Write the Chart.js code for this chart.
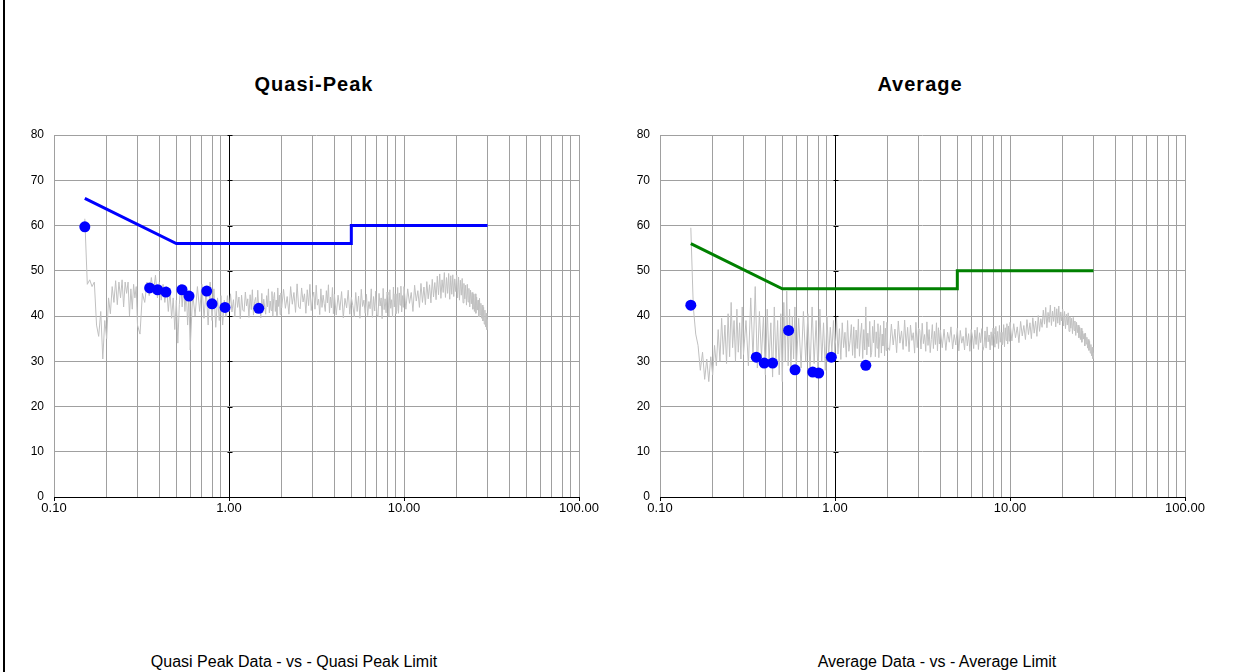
<!DOCTYPE html>
<html>
<head>
<meta charset="utf-8">
<script src="https://cdn.jsdelivr.net/npm/chart.js@4.4.1/dist/chart.umd.min.js"></script>
<style>
  body { margin: 0; width: 1252px; height: 672px; background: #fff; position: relative; overflow: hidden;
         font-family: "Liberation Sans", Arial, sans-serif; color: #000; }
  .frame { position: absolute; left: 3px; top: 0; width: 2px; height: 672px; background: #000; }
  .box { position: absolute; top: 120px; width: 620px; height: 410px; }
  .title { position: absolute; top: 73px; font-weight: bold; font-size: 20px; line-height: 22px;
           letter-spacing: 1px; transform: translateX(-50%); white-space: nowrap; }
  .caption { position: absolute; top: 654px; font-size: 16px; line-height: 16px;
             transform: translateX(-50%); white-space: nowrap; }
</style>
</head>
<body>
<div class="frame"></div>
<div class="title" style="left:314px">Quasi-Peak</div>
<div class="title" style="left:920px">Average</div>
<div class="box" style="left:0px"><canvas id="qpChart" width="620" height="410"></canvas></div>
<div class="box" style="left:606px"><canvas id="avChart" width="620" height="410"></canvas></div>
<div class="caption" style="left:294px">Quasi Peak Data - vs - Quasi Peak Limit</div>
<div class="caption" style="left:937px">Average Data - vs - Average Limit</div>

<script>
// sweep frequencies (MHz)
const freqMHz = [
  0.150,0.155,0.160,0.165,0.170,0.175,0.180,0.185,0.190,0.195,0.200,0.205,0.210,0.215,0.220,0.225,
  0.230,0.235,0.240,0.245,0.250,0.255,0.260,0.265,0.270,0.275,0.280,0.285,0.290,0.295,0.300,
  0.31,0.32,0.33,0.34,0.35,0.36,0.37,0.38,0.39,0.40,0.41,0.42,0.43,0.44,0.45,
  0.46,0.47,0.48,0.49,0.50,0.51,0.52,0.53,0.54,0.55,0.56,0.57,0.58,0.59,0.60,
  0.62,0.64,0.66,0.68,0.70,0.72,0.74,0.76,0.78,0.80,0.82,0.84,0.86,0.88,0.90,0.92,0.94,0.96,0.98,1.00,
  1.02,1.04,1.06,1.08,1.10,1.12,1.14,1.16,1.18,1.20,1.22,1.24,1.26,1.28,1.30,1.32,1.34,1.36,1.38,1.40,
  1.42,1.44,1.46,1.48,1.50,1.52,1.54,1.56,1.58,1.60,1.62,1.64,1.66,1.68,1.70,1.72,1.74,1.76,1.78,1.80,
  1.82,1.84,1.86,1.88,1.90,1.92,1.94,1.96,1.98,2.00,
  2.05,2.10,2.15,2.20,2.25,2.30,2.35,2.40,2.45,2.50,2.55,2.60,2.65,2.70,2.75,2.80,2.85,2.90,2.95,3.00,
  3.05,3.10,3.15,3.20,3.25,3.30,3.35,3.40,3.45,3.50,3.55,3.60,3.65,3.70,3.75,3.80,3.85,3.90,3.95,4.00,
  4.1,4.2,4.3,4.4,4.5,4.6,4.7,4.8,4.9,5.0,
  5.1,5.2,5.3,5.4,5.5,5.6,5.7,5.8,5.9,6.0,
  6.1,6.2,6.3,6.4,6.5,6.6,6.7,6.8,6.9,7.0,
  7.1,7.2,7.3,7.4,7.5,7.6,7.7,7.8,7.9,8.0,
  8.1,8.2,8.3,8.4,8.5,8.6,8.7,8.8,8.9,9.0,
  9.1,9.2,9.3,9.4,9.5,9.6,9.7,9.8,9.9,10.0,
  10.25,10.50,10.75,11.00,11.25,11.50,11.75,12.00,12.25,12.50,12.75,13.00,13.25,13.50,13.75,14.00,14.25,14.50,14.75,15.00,
  15.25,15.50,15.75,16.00,16.25,16.50,16.75,17.00,17.25,17.50,17.75,18.00,18.25,18.50,18.75,19.00,19.25,19.50,19.75,20.00,
  20.25,20.50,20.75,21.00,21.25,21.50,21.75,22.00,22.25,22.50,22.75,23.00,23.25,23.50,23.75,24.00,24.25,24.50,24.75,25.00,
  25.25,25.50,25.75,26.00,26.25,26.50,26.75,27.00,27.25,27.50,27.75,28.00,28.25,28.50,28.75,29.00,29.25,29.50,29.75,30.00
];

// quasi-peak scan (dBuV)
const qpTrace = [
  61.5,47.0,48.0,46.5,47.5,38.0,35.5,41.0,30.5,39.0,35.0,44.0,40.5,46.5,43.0,47.8,
  42.5,47.5,44.0,48.0,42.0,47.5,45.0,47.5,40.0,46.0,41.5,47.0,44.0,46.5,38.0,
  36.0,45.0,43.0,47.5,44.5,48.5,45.0,49.0,44.0,47.5,43.5,47.0,43.0,46.5,41.0,
  45.5,39.5,44.0,37.0,43.5,34.0,42.5,47.0,42.0,46.5,41.0,46.0,38.0,44.5,32.5,
  45.0,40.0,46.5,41.0,47.0,39.5,46.0,38.0,47.5,39.0,46.0,37.5,44.0,39.0,44.5,38.0,43.5,40.0,44.5,41.0,
  44.9,40.9,43.6,39.8,45.5,41.9,44.2,39.4,44.6,41.3,41.0,45.3,42.2,43.8,39.7,44.7,41.4,45.8,40.2,43.2,
  44.1,40.6,45.7,41.5,42.8,39.6,45.0,40.8,43.7,41.9,40.4,44.5,42.0,46.0,40.7,43.3,41.2,45.4,39.9,43.9,
  45.2,41.0,43.5,40.1,46.2,42.1,44.6,40.3,45.1,41.8,
  45.9,41.7,44.3,40.4,46.5,42.6,45.2,40.8,47.1,42.0,41.6,46.2,43.1,44.9,40.6,45.8,42.3,47.0,41.2,44.0,
  45.3,41.5,46.8,42.4,43.7,40.3,46.0,41.9,44.6,42.7,41.0,45.6,42.9,46.9,40.7,44.2,41.8,46.3,40.5,44.8,
  40.2,44.6,41.3,45.4,39.6,43.9,41.8,45.7,40.4,44.1,
  42.3,39.8,45.2,41.0,44.4,39.5,45.9,42.1,43.5,40.6,
  44.8,40.1,43.2,41.6,46.0,39.7,44.3,41.1,45.5,40.3,
  39.9,45.0,42.2,44.0,39.4,46.1,41.4,43.8,40.7,45.3,
  44.7,40.0,45.8,41.7,43.6,39.8,46.4,42.0,44.9,40.5,
  41.2,46.3,40.6,45.1,42.4,46.6,40.9,44.5,41.9,46.5,
  41.5,46.0,42.8,45.2,41.0,46.8,43.3,45.6,41.9,47.2,43.0,46.4,42.5,47.6,43.8,46.9,42.9,48.1,44.2,47.4,
  43.6,48.8,44.7,49.3,43.9,48.0,45.2,49.6,44.1,48.5,45.0,49.4,43.7,48.9,44.8,49.1,44.3,48.2,45.4,49.0,
  44.0,48.6,43.5,47.9,44.6,48.3,42.9,47.2,43.8,46.8,42.4,47.0,43.1,46.1,42.0,45.7,42.7,45.2,41.5,44.8,
  41.0,44.9,40.6,44.2,41.3,43.5,39.8,43.9,40.2,42.8,39.5,42.4,38.9,41.9,38.2,41.3,37.6,40.6,37.0,39.2
];

// average scan (dBuV)
const avTrace = [
  59.5,42.0,36.0,33.5,28.0,32.0,26.0,30.5,25.5,31.0,27.0,33.5,29.0,37.0,30.0,39.5,
  31.5,38.0,29.5,40.5,31.0,43.0,33.0,39.0,30.0,41.5,32.0,38.5,30.5,42.0,31.5,
  39.0,29.0,44.0,30.5,46.5,28.5,41.0,31.0,40.0,27.0,41.5,30.0,38.5,26.5,42.0,
  29.5,39.0,27.0,40.5,25.5,43.0,30.0,45.5,29.0,41.5,27.5,40.0,30.5,42.0,28.0,
  39.5,28.5,41.0,30.0,40.5,27.5,42.0,29.5,39.0,27.0,41.5,30.0,38.5,28.0,40.0,31.0,37.5,32.0,39.0,31.5,
  39.8,31.6,37.2,30.4,38.5,33.0,36.4,30.9,39.0,32.2,34.5,38.1,31.3,37.6,30.7,36.9,32.8,39.3,31.1,35.8,
  38.4,30.6,37.0,32.5,42.0,31.4,36.2,33.2,38.8,30.9,32.0,37.7,34.1,39.1,31.0,36.5,32.9,38.3,30.8,35.4,
  37.9,31.8,36.0,33.4,38.9,31.2,37.3,32.4,38.6,33.1,
  32.4,38.2,33.6,37.1,31.9,38.9,34.0,36.7,32.6,39.1,33.3,37.5,32.1,38.0,34.6,36.3,31.8,38.6,33.0,37.3,
  36.8,32.7,38.4,33.9,35.9,32.2,38.7,33.5,37.0,31.9,34.8,38.1,32.8,36.6,33.7,38.5,32.3,37.4,33.8,36.9,
  33.0,37.1,32.4,36.4,34.2,37.6,32.7,35.9,33.6,37.3,
  32.3,36.8,34.0,35.5,32.5,37.4,33.4,36.1,32.2,37.0,
  35.6,32.8,36.9,33.7,37.5,32.6,36.3,34.1,37.2,32.4,
  33.3,36.7,32.9,37.6,34.3,35.8,32.5,36.5,33.5,37.3,
  36.0,33.1,37.7,33.9,36.6,32.8,37.9,34.2,36.4,33.6,
  34.0,38.1,33.2,37.4,34.6,38.3,33.8,37.8,34.4,38.6,
  34.5,38.3,35.2,37.6,34.1,38.8,35.6,37.9,34.8,39.2,35.9,38.5,35.0,39.6,36.2,38.9,35.5,40.1,36.6,39.4,
  37.5,41.3,38.2,41.9,37.4,40.8,38.6,42.4,37.9,41.1,38.8,42.0,37.6,41.6,38.4,42.2,38.0,40.9,38.9,41.5,
  37.8,41.0,37.2,40.4,38.0,40.7,36.6,39.8,37.3,39.5,36.1,39.7,36.8,38.9,35.7,38.6,36.3,38.0,35.2,37.6,
  34.8,37.3,34.2,36.7,34.9,36.1,33.4,36.2,33.8,35.3,32.9,34.8,32.4,34.4,31.8,33.7,31.2,33.1,30.6,31.9
];

// final measurement points
const qpPeakF = [0.150, 0.352, 0.391, 0.436, 0.539, 0.591, 0.746, 0.800, 0.949, 1.48];
const qpPeakV = [59.7, 46.2, 45.8, 45.3, 45.8, 44.4, 45.5, 42.7, 41.9, 41.7];
const avPeakF = [0.150, 0.355, 0.394, 0.440, 0.543, 0.591, 0.746, 0.807, 0.953, 1.50];
const avPeakV = [42.4, 30.9, 29.6, 29.6, 36.8, 28.1, 27.6, 27.4, 30.9, 29.1];

// limits
const limitF = [0.15, 0.5, 5, 5, 30];
const qpLimit = [66, 56, 56, 60, 60];
const avLimit = [56, 46, 46, 50, 50];

// axes
const xMajor = [0.1, 1, 10, 100];
const xLabels = ["0.10", "1.00", "10.00", "100.00"];
const yTicks = [0, 10, 20, 30, 40, 50, 60, 70, 80];

const gridValues = [];
for (let e = -1; e < 2; e++) {
  for (let m = 1; m < 10; m++) gridValues.push(Number((m * Math.pow(10, e)).toPrecision(3)));
}
gridValues.push(100);

Chart.defaults.font.family = '"Liberation Sans", Arial, sans-serif';
Chart.defaults.color = '#000';

// the value axis crosses at 1 MHz: small tick marks on that line
const crossAxis = {
  id: 'crossAxis',
  beforeDatasetsDraw(chart) {
    const { ctx, scales: { x, y } } = chart;
    const px = Math.round(x.getPixelForValue(1)) + 0.5;
    ctx.save();
    ctx.strokeStyle = '#000';
    ctx.lineWidth = 1;
    ctx.beginPath();
    yTicks.forEach(v => {
      const py = Math.round(y.getPixelForValue(v)) + 0.5;
      ctx.moveTo(px - 2, py);
      ctx.lineTo(px + 3, py);
    });
    ctx.stroke();
    ctx.restore();
  }
};

function makeChart(id, trace, peakF, peakV, limitV, limitColor) {
  return new Chart(document.getElementById(id), {
    type: 'scatter',
    data: {
      datasets: [
        {
          data: peakF.map((f, i) => ({ x: f, y: peakV[i] })),
          pointRadius: 5.5, pointBackgroundColor: '#0000ff', pointBorderWidth: 0, showLine: false
        },
        {
          data: limitF.map((f, i) => ({ x: f, y: limitV[i] })),
          showLine: true, borderColor: limitColor, borderWidth: 3, pointRadius: 0
        },
        {
          data: freqMHz.map((f, i) => ({ x: f, y: trace[i] })),
          showLine: true, borderColor: '#c0c0c0', borderWidth: 1, pointRadius: 0
        }
      ]
    },
    options: {
      responsive: false,
      animation: false,
      layout: { padding: { top: 15, right: 41, left: 0, bottom: 0 } },
      plugins: { legend: { display: false }, tooltip: { enabled: false } },
      scales: {
        x: {
          type: 'logarithmic',
          min: 0.1,
          max: 100,
          afterBuildTicks: s => { s.ticks = gridValues.map(v => ({ value: v })); },
          afterFit: s => { s.height = 33; s.paddingLeft = 0; s.paddingRight = 0; },
          ticks: {
            autoSkip: false, maxRotation: 0, padding: 0,
            font: { size: 13 },
            callback: v => { const k = xMajor.indexOf(v); return k < 0 ? '' : xLabels[k]; }
          },
          grid: {
            color: c => (c.tick && c.tick.value === 1 ? '#000' : '#a0a0a0'),
            tickColor: c => (c.tick && xMajor.indexOf(c.tick.value) >= 0 ? '#000' : 'rgba(0,0,0,0)'),
            tickLength: 4
          },
          border: { color: '#000', width: 1 }
        },
        y: {
          min: 0,
          max: 80,
          afterBuildTicks: s => { s.ticks = yTicks.map(v => ({ value: v })); },
          afterFit: s => { s.width = 54; s.paddingTop = 0; s.paddingBottom = 0; },
          ticks: { padding: 10, font: { size: 12 } },
          grid: {
            drawTicks: false,
            color: c => (c.tick && c.tick.value === 0 ? '#000' : '#a0a0a0')
          },
          border: { display: false }
        }
      }
    },
    plugins: [crossAxis]
  });
}

makeChart('qpChart', qpTrace, qpPeakF, qpPeakV, qpLimit, '#0000ff');
makeChart('avChart', avTrace, avPeakF, avPeakV, avLimit, '#008000');
</script>
</body>
</html>
